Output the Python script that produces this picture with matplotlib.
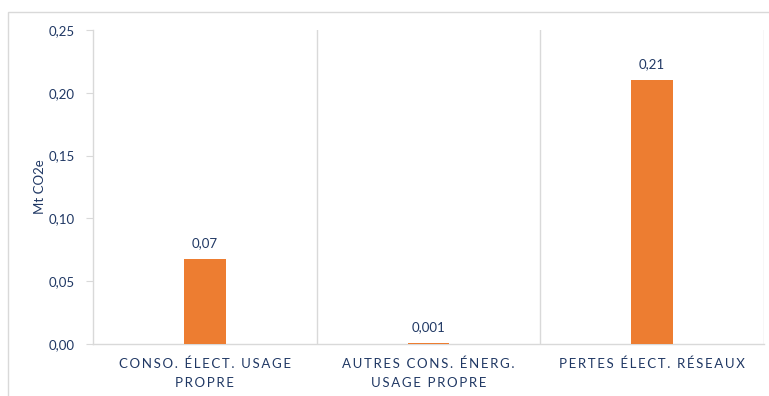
import matplotlib
matplotlib.use("Agg")
import matplotlib.pyplot as plt
from matplotlib.patches import Rectangle

categories = [["CONSO. ÉLECT. USAGE", "PROPRE"],
              ["AUTRES CONS. ÉNERG.", "USAGE PROPRE"],
              ["PERTES ÉLECT. RÉSEAUX"]]
values = [0.068, 0.001, 0.21]
value_labels = ["0,07", "0,001", "0,21"]
yticks = [0.0, 0.05, 0.10, 0.15, 0.20, 0.25]
ytick_labels = ["0,00", "0,05", "0,10", "0,15", "0,20", "0,25"]

navy = "#203864"
grid = "#d9d9d9"
orange = "#ED7D31"
plt.rcParams['font.family'] = ['Lato', 'DejaVu Sans']

fig = plt.figure(figsize=(7.69, 3.96), dpi=100)
fig.patches.append(Rectangle((8/769, -0.1), 1.2, 1 - 12/396 + 0.1, transform=fig.transFigure,
                             fill=False, edgecolor=grid, linewidth=1.0))
ax = fig.add_axes([93/769, 1 - 344/396, (764 - 93)/769, (344 - 30)/396])

x = list(range(len(values)))
ax.bar(x, values, width=0.185, color=orange, zorder=3)
ax.set_xlim(-0.5, len(values) - 0.5)
ax.set_ylim(0, 0.25)

for xi, v, lab in zip(x, values, value_labels):
    ax.annotate(lab, (xi, v), xytext=(0, 7), textcoords="offset points",
                ha="center", va="bottom", color=navy, fontsize=9.5)

ax.set_yticks(yticks)
ax.set_yticklabels(ytick_labels, color=navy, fontsize=9.5)
ax.tick_params(axis='y', length=5, color=grid, pad=8)
ax.set_xticks([])

for b in [0.5, 1.5, 2.5]:
    ax.axvline(b, color=grid, linewidth=1.0, zorder=1)

for s in ['top', 'right']:
    ax.spines[s].set_visible(False)
for s in ['left', 'bottom']:
    ax.spines[s].set_color(grid)
    ax.spines[s].set_linewidth(1.0)

def spaced(t):
    return "\u2009".join(t)

for xi, lines in zip(x, categories):
    for j, line in enumerate(lines):
        ax.text(xi, 0, spaced(line), transform=ax.get_xaxis_transform(),
                ha="center", va="center", color=navy, fontsize=9.5,
                position=(xi, -(20 + 19 * j) / 314))

ax.set_ylabel("Mt CO2e", color=navy, fontsize=9.5)
ax.yaxis.set_label_coords(-(93 - 46) / 671, 0.5)

fig.savefig("out.png", dpi=100)
